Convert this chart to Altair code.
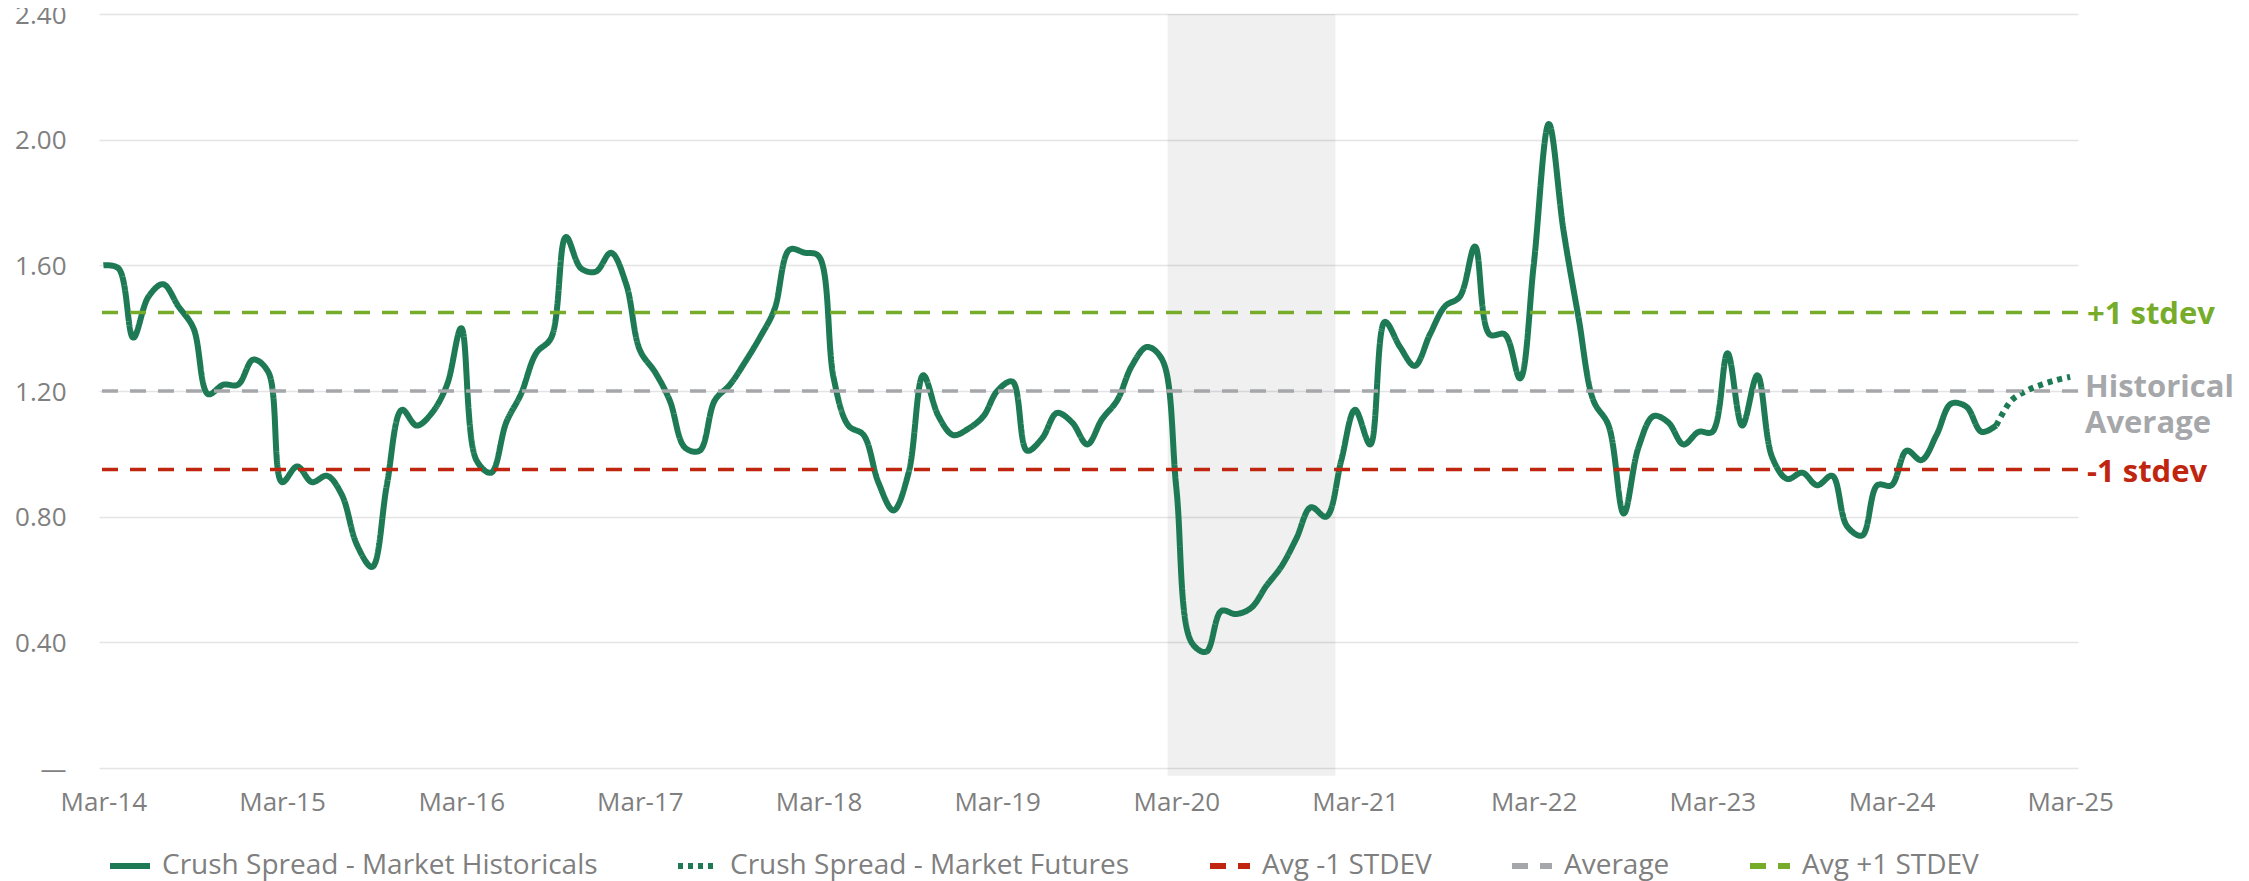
import altair as alt
import pandas as pd

# ---------------- data ----------------
hist_values = [
    1.60, 1.59, 1.37, 1.50, 1.54, 1.47, 1.40, 1.19, 1.22, 1.22, 1.30, 1.26,   # Mar14-Feb15
    0.91, 0.96, 0.91, 0.93, 0.87, 0.71, 0.64, 0.90, 1.14, 1.09, 1.13, 1.22,   # Mar15-Feb16
    1.40, 0.98, 0.94, 1.10, 1.19, 1.32, 1.37, 1.69, 1.59, 1.58, 1.64, 1.54,   # Mar16-Feb17
    1.33, 1.26, 1.17, 1.02, 1.01, 1.17, 1.22, 1.29, 1.37, 1.46, 1.65, 1.64,   # Mar17-Feb18
    1.63, 1.24, 1.09, 1.06, 0.91, 0.82, 0.94, 1.25, 1.12, 1.06, 1.08, 1.12,   # Mar18-Feb19
    1.20, 1.23, 1.01, 1.05, 1.13, 1.10, 1.03, 1.11, 1.17, 1.28, 1.34, 1.30,   # Mar19-Feb20
    0.89, 0.40, 0.37, 0.50, 0.49, 0.51, 0.58, 0.64, 0.73, 0.83, 0.80, 0.98,   # Mar20-Feb21
    1.14, 1.03, 1.42, 1.34, 1.28, 1.38, 1.47, 1.50, 1.66, 1.38, 1.38, 1.24,   # Mar21-Feb22
    1.60, 2.05, 1.71, 1.43, 1.17, 1.09, 0.81, 1.02, 1.12, 1.10, 1.03, 1.07,   # Mar22-Feb23
    1.07, 1.32, 1.09, 1.25, 0.99, 0.92, 0.94, 0.90, 0.93, 0.77, 0.74, 0.90,   # Mar23-Feb24
    0.90, 1.01, 0.98, 1.06, 1.16, 1.15, 1.07, 1.09,                           # Mar24-Oct24
]
fut_values = [1.09, 1.17, 1.20, 1.22, 1.235, 1.245]                          # Oct24-Mar25

hist_dates = pd.date_range("2014-03-01", periods=len(hist_values), freq="MS")
fut_dates = pd.date_range("2024-10-01", periods=len(fut_values), freq="MS")

S_HIST = "Crush Spread - Market Historicals"
S_FUT = "Crush Spread - Market Futures"
S_LO = "Avg -1 STDEV"
S_AVG = "Average"
S_HI = "Avg +1 STDEV"

series_names = [S_HIST, S_FUT, S_LO, S_AVG, S_HI]
series_colors = ["#1E7A54", "#1E7A54", "#C0260F", "#A5A7AA", "#77AC2B"]
series_dashes = [[1, 0], [5, 5], [16, 12], [16, 12], [16, 12]]

stat_names = [S_LO, S_AVG, S_HI]
stat_values = [0.95, 1.20, 1.45]

note_texts = ["-1 stdev", "+1 stdev"]
note_values = [0.95, 1.45]
note_colors = ["#C0260F", "#77AC2B"]
avg_note = "Historical\nAverage"

shade_start = ["2020-02-12"]
shade_end = ["2021-01-20"]

y_ticks = [0, 0.4, 0.8, 1.2, 1.6, 2.0, 2.4]
x_years = list(range(2014, 2026))

# ---------------- tables ----------------
hist_df = pd.DataFrame({"date": hist_dates, "value": hist_values, "series": S_HIST})
fut_df = pd.DataFrame({"date": fut_dates, "value": fut_values, "series": S_FUT})
stat_df = pd.DataFrame({"value": stat_values, "series": stat_names})
note_df = pd.DataFrame({"value": note_values, "label": note_texts, "tcolor": note_colors})
avg_df = pd.DataFrame({"value": [stat_values[1]], "label": [avg_note]})
shade_df = pd.DataFrame({"date": pd.to_datetime(shade_start), "end": pd.to_datetime(shade_end),
                         "value": [2.4], "bottom": [-0.025]})

FONT = "Open Sans"
GRAY = "#7F7F7F"
W, H = 1979, 754

x_enc = alt.X(
    "date:T",
    scale=alt.Scale(domain=[alt.DateTime(year=2014, month=2, date=20),
                            alt.DateTime(year=2025, month=3, date=17)]),
    axis=alt.Axis(
        values=[alt.DateTime(year=y, month=3, date=1) for y in x_years],
        labelExpr="timeFormat(datum.value, '%b-%y')",
        grid=False, domain=False, ticks=False, title=None,
        labelFontSize=26, labelColor=GRAY, labelFont=FONT, labelPadding=21,
        labelFlush=False, labelOverlap=False,
    ),
)
y_enc = alt.Y(
    "value:Q",
    scale=alt.Scale(domain=[0, 2.4], nice=False),
    axis=alt.Axis(
        values=y_ticks,
        labelExpr="datum.value == 0 ? '—' : format(datum.value, '.2f')",
        grid=True, gridColor="#E4E4E4", gridWidth=1.5,
        domain=False, ticks=False, title=None, labelOffset=1,
        labelFontSize=26, labelColor=GRAY, labelFont=FONT, labelPadding=33,
    ),
)

legend = alt.Legend(
    orient="none", legendX=8, legendY=829, direction="horizontal", title=None,
    labelFontSize=28, labelColor=GRAY, labelFont=FONT, labelLimit=1000,
    symbolType="stroke", symbolSize=1600, symbolStrokeWidth=6,
    columnPadding=68, labelOffset=9, padding=0,
)
color_enc = alt.Color("series:N", scale=alt.Scale(domain=series_names, range=series_colors), legend=legend)
dash_enc = alt.StrokeDash("series:N", scale=alt.Scale(domain=series_names, range=series_dashes), legend=legend)

shade = alt.Chart(shade_df).mark_rect(color="#000000", opacity=0.058).encode(
    x=x_enc, x2="end:T", y=y_enc, y2="bottom:Q"
)

hist_line = alt.Chart(hist_df).mark_line(strokeWidth=6, interpolate="catmull-rom").encode(
    x=x_enc, y=y_enc, color=color_enc, strokeDash=dash_enc
)
fut_line = alt.Chart(fut_df).mark_line(strokeWidth=6, interpolate="catmull-rom", strokeCap="butt").encode(
    x=x_enc, y=y_enc, color=color_enc, strokeDash=dash_enc
)
rules = alt.Chart(stat_df).mark_rule(strokeWidth=3.5).encode(
    y=y_enc, color=color_enc, strokeDash=dash_enc
)
notes = alt.Chart(note_df).mark_text(
    align="left", baseline="alphabetic", dy=12, fontSize=31, fontWeight="bold", font=FONT
).encode(
    y=y_enc, x=alt.value(W + 9), text="label:N", color=alt.Color("tcolor:N", scale=None)
)
avg_text = alt.Chart(avg_df).mark_text(
    align="left", baseline="alphabetic", dy=6, fontSize=31, fontWeight="bold", font=FONT,
    lineBreak="\n", lineHeight=36, color="#A5A7AA"
).encode(
    y=y_enc, x=alt.value(W + 7), text="label:N"
)

chart = alt.layer(shade, hist_line, fut_line, rules, notes, avg_text).properties(
    width=W, height=H,
    autosize=alt.AutoSizeParams(type="none"),
    padding={"left": 91, "top": 6, "right": 163, "bottom": 115},
    background="white",
).configure_view(stroke=None)

chart.save("out.html", embed_options={"renderer": "svg", "actions": False})
